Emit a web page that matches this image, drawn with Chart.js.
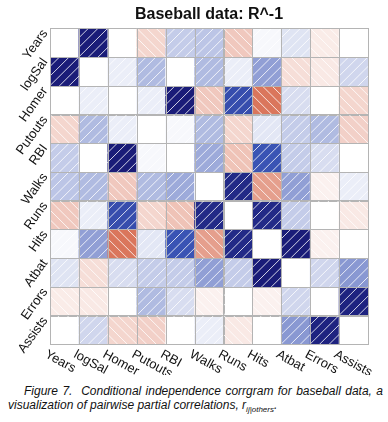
<!DOCTYPE html>
<html>
<head>
<meta charset="utf-8">
<script src="https://cdn.jsdelivr.net/npm/chart.js@4"></script>
<style>
  body { margin: 0; background: #fff; width: 388px; height: 422px; overflow: hidden; position: relative; font-family: "Liberation Sans", Arial, sans-serif; }
  #wrap { position: absolute; left: 0; top: 0; width: 388px; height: 375px; }
  .cap { position: absolute; font-style: italic; font-size: 12px; color: #111; white-space: nowrap; line-height: 14px; }
  .cap sub { font-size: 8px; vertical-align: -3px; line-height: 0; }
</style>
</head>
<body>
<div id="wrap"><canvas id="chart" width="388" height="375"></canvas></div>
<div class="cap" style="left:24px;top:384px;width:359px;white-space:normal;text-align:justify;text-align-last:justify">Figure 7.&nbsp; Conditional independence corrgram for baseball data, a</div>
<div class="cap" style="left:8px;top:398px">visualization of pairwise partial correlations, r<sub>ij|others</sub>.</div>
<script>
const variables = ['Years', 'logSal', 'Homer', 'Putouts', 'RBI', 'Walks', 'Runs', 'Hits', 'Atbat', 'Errors', 'Assists'];

// partial correlations, one row per variable (null = diagonal)
const years   = [null, 0.9, 0.0, -0.15, 0.15, 0.17, -0.2, 0.02, 0.08, -0.07, 0.0];
const logSal  = [0.9, null, 0.05, 0.2, 0.0, 0.2, 0.05, 0.28, -0.12, -0.08, 0.12];
const homer   = [0.0, 0.05, null, 0.05, 0.9, -0.2, 0.55, -0.5, 0.1, 0.0, -0.15];
const putouts = [-0.15, 0.2, 0.05, null, 0.02, 0.2, -0.15, 0.07, 0.15, 0.2, -0.17];
const rbi     = [0.15, 0.0, 0.9, 0.02, null, 0.25, -0.22, 0.5, 0.15, 0.1, 0.0];
const walks   = [0.17, 0.2, -0.2, 0.2, 0.25, null, 0.8, -0.35, 0.28, -0.05, 0.05];
const runs    = [-0.2, 0.05, 0.55, -0.15, -0.22, 0.8, null, 0.8, 0.15, 0.0, -0.08];
const hits    = [0.02, 0.28, -0.5, 0.07, 0.5, -0.35, 0.8, null, 0.9, -0.05, 0.0];
const atbat   = [0.08, -0.12, 0.1, 0.15, 0.15, 0.28, 0.15, 0.9, null, 0.12, 0.3];
const errors  = [-0.07, -0.08, 0.0, 0.2, 0.1, -0.05, 0.0, -0.05, 0.12, null, 0.85];
const assists = [0.0, 0.12, -0.15, -0.17, 0.0, 0.05, -0.08, 0.0, 0.3, 0.85, null];

const matrix = [years, logSal, homer, putouts, rbi, walks, runs, hits, atbat, errors, assists];

// red - salmon - white - blue - navy
const stops = [
  [-1, [190, 50, 35]],
  [-0.5, [218, 118, 92]],
  [0, [255, 255, 255]],
  [0.5, [58, 84, 180]],
  [1, [18, 14, 105]],
];

function shade(v) {
  if (v === null) return '#ffffff';
  for (let i = 0; i < stops.length - 1; i++) {
    const [a, ca] = stops[i];
    const [b, cb] = stops[i + 1];
    if (v >= a && v <= b) {
      const t = (v - a) / (b - a);
      const c = ca.map((x, k) => Math.round(x + (cb[k] - x) * t));
      return `rgb(${c[0]},${c[1]},${c[2]})`;
    }
  }
  return '#ffffff';
}

function cellRect(bar) {
  const p = bar.getProps(['x', 'y', 'base', 'width'], true);
  return {
    left: p.x - p.width / 2,
    top: Math.min(p.y, p.base),
    w: p.width,
    h: Math.abs(p.base - p.y),
  };
}

const cellPlugin = {
  id: 'cells',
  afterDatasetsDraw(chart) {
    const ctx = chart.ctx;
    matrix.forEach((row, r) => {
      chart.getDatasetMeta(r).data.forEach((bar, c) => {
        const { left, top, w, h } = cellRect(bar);
        const v = row[c];
        if (v !== null) {
          ctx.save();
          ctx.beginPath();
          ctx.rect(left, top, w, h);
          ctx.clip();
          ctx.strokeStyle = 'rgba(255,255,255,0.8)';
          ctx.lineWidth = 1;
          ctx.beginPath();
          for (let k = -2; k <= 2; k++) {
            const off = (k * w) / 3;
            if (v >= 0) {
              // "/" lines
              ctx.moveTo(left + off - 2, top + h + 2);
              ctx.lineTo(left + w + off + 2, top - 2);
            } else {
              ctx.moveTo(left + off - 2, top - 2);
              ctx.lineTo(left + w + off + 2, top + h + 2);
            }
          }
          ctx.stroke();
          ctx.restore();
        }
        ctx.save();
        ctx.strokeStyle = '#b4b4b4';
        ctx.lineWidth = 1;
        ctx.strokeRect(Math.round(left) + 0.5, Math.round(top) + 0.5, Math.round(w), Math.round(h));
        ctx.restore();
      });
    });
  },
  afterDraw(chart) {
    const ctx = chart.ctx;
    ctx.save();
    ctx.fillStyle = '#111';
    ctx.font = '13px "Liberation Sans", Arial, sans-serif';
    // row labels on the left
    variables.forEach((name, r) => {
      const { left, top } = cellRect(chart.getDatasetMeta(r).data[0]);
      ctx.save();
      ctx.translate(left - 5, top + 3);
      ctx.rotate(-0.95);
      ctx.textAlign = 'right';
      ctx.textBaseline = 'middle';
      ctx.fillText(name, 0, 0);
      ctx.restore();
    });
    // column labels at the bottom
    const lastRow = chart.getDatasetMeta(matrix.length - 1).data;
    variables.forEach((name, c) => {
      const { left, top, h } = cellRect(lastRow[c]);
      ctx.save();
      ctx.translate(left - 1, top + h + 4);
      ctx.rotate(0.5);
      ctx.textAlign = 'left';
      ctx.textBaseline = 'top';
      ctx.fillText(name, 0, 0);
      ctx.restore();
    });
    ctx.restore();
  },
};

new Chart(document.getElementById('chart'), {
  type: 'bar',
  data: {
    labels: variables,
    datasets: matrix.map((row, r) => ({
      label: variables[r],
      data: row.map(() => 1),
      backgroundColor: row.map(shade),
      borderWidth: 0,
      barPercentage: 1,
      categoryPercentage: 1,
    })),
  },
  options: {
    responsive: false,
    animation: false,
    layout: {
      padding: { left: 50, right: 20, top: 0, bottom: 31 },
    },
    plugins: {
      legend: { display: false },
      tooltip: { enabled: false },
      title: {
        display: true,
        text: 'Baseball data: R^-1',
        color: '#111',
        font: { family: '"Liberation Sans", Arial, sans-serif', size: 16, weight: 'bold' },
        padding: { top: 5, bottom: 4 },
      },
    },
    scales: {
      x: { display: false, stacked: true },
      y: { display: false, stacked: true, reverse: true, min: 0, max: 11 },
    },
  },
  plugins: [cellPlugin],
});
</script>
</body>
</html>
